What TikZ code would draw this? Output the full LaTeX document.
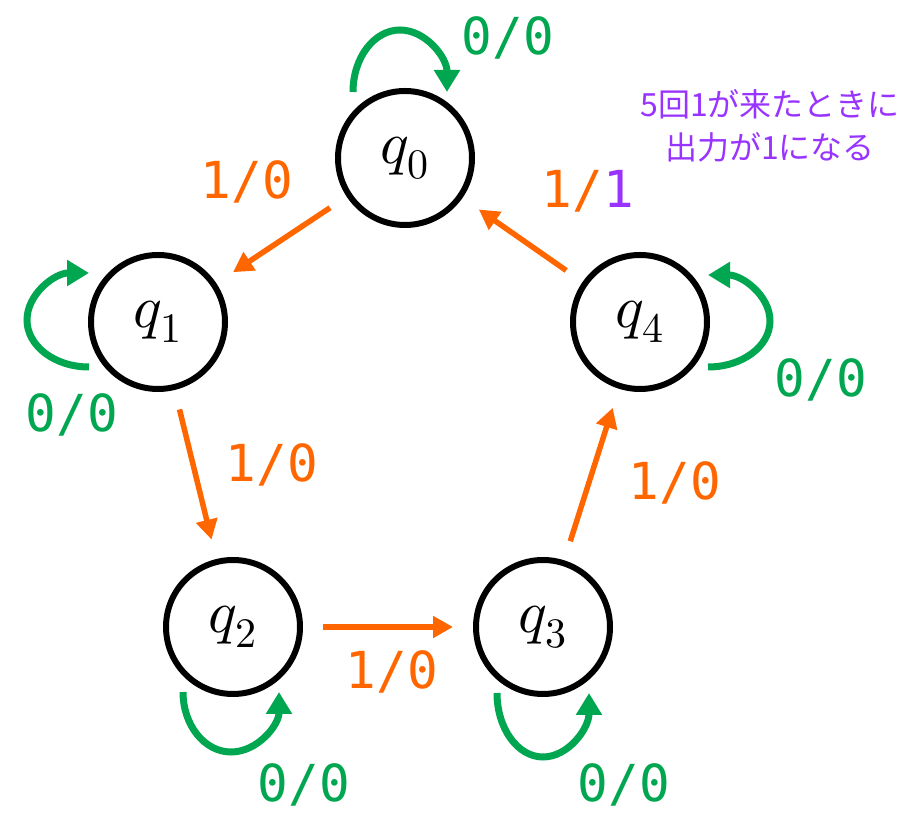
\documentclass[tikz,border=0pt]{standalone}
\usepackage{fontspec}
\usepackage{unicode-math}
\setmathfont{Latin Modern Math}
\newfontfamily\monofont{DejaVu Sans Mono}
\newfontfamily\jpfont{Noto Sans CJK JP}
\usetikzlibrary{arrows.meta}
\definecolor{movecol}{HTML}{FF6600}
\definecolor{staycol}{HTML}{00A650}
\definecolor{notecol}{HTML}{9933FF}

\begin{document}
\begin{tikzpicture}[x=1pt, y=1pt,
		state/.style={circle, draw, line width=6pt, minimum size=134pt, inner sep=0pt, font=\fontsize{60}{64}\selectfont},
		move/.style={movecol, line width=5.5pt, -{Triangle[length=20pt, width=21pt]}, shorten <=20pt, shorten >=20pt},
		stay/.style={staycol, line width=7pt, -{Triangle[length=22pt, width=25pt]}},
		lbl/.style={font=\monofont\fontsize{51}{56}\selectfont, inner sep=0pt}]
			\useasboundingbox (0, 0) rectangle (919, 838);
			\node[state] (q0) at (405, 680) {$q_0$};
			\node[state] (q1) at (158, 516) {$q_1$};
			\node[state] (q2) at (233, 211) {$q_2$};
			\node[state] (q3) at (543, 211) {$q_3$};
			\node[state] (q4) at (640, 516) {$q_4$};
			% input 1
			\draw[move] (q0) -- (q1);
			\draw[move] (q1) -- (q2);
			\draw[move] (q2) -- (q3);
			\draw[move] (q3) -- (q4);
			\draw[move] (q4) -- (q0);
			% input 0
			\draw[stay] ([shift={(-52, 66)}]q0.center) arc[start angle=180, end angle=0, x radius=47, y radius=62];
			\draw[stay] ([shift={(-69, -45)}]q1.center) arc[start angle=270, end angle=90, x radius=62, y radius=47];
			\draw[stay] ([shift={(-50, -65)}]q2.center) arc[start angle=180, end angle=360, x radius=48, y radius=60];
			\draw[stay] ([shift={(-46, -66)}]q3.center) arc[start angle=180, end angle=360, x radius=46, y radius=64];
			\draw[stay] ([shift={(68, -45)}]q4.center) arc[start angle=-90, end angle=90, x radius=62, y radius=46];
			\node[lbl, movecol] (l01) at (247, 656) {1/0};
			\node[lbl, movecol] (l12) at (272, 373) {1/0};
			\node[lbl, movecol] (l23) at (392, 166) {1/0};
			\node[lbl, movecol] (l34) at (675, 355) {1/0};
			\node[lbl, movecol] (l40) at (588, 647) {1/\textcolor{notecol}{1}};
			\node[lbl, staycol] (l00) at (508, 800) {0/0};
			\node[lbl, staycol] (l11) at (72, 423) {0/0};
			\node[lbl, staycol] (l22) at (304, 53) {0/0};
			\node[lbl, staycol] (l33) at (624, 53) {0/0};
			\node[lbl, staycol] (l44) at (821, 458) {0/0};
			\node[font=\jpfont\fontsize{32}{43}\selectfont, text=notecol, align=center] (note) at (770, 712) {5回1が来たときに\\出力が1になる};
		\end{tikzpicture}
\end{document}
